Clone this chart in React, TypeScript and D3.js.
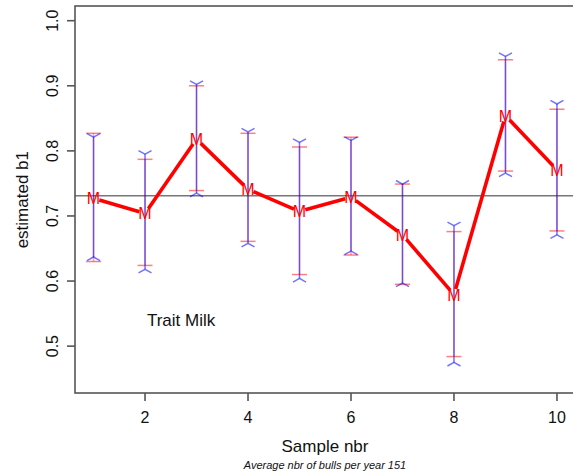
import React from 'react';
import * as d3 from 'd3';

// values
const samples = [1, 2, 3, 4, 5, 6, 7, 8, 9, 10];
const means = [0.727, 0.704, 0.818, 0.741, 0.707, 0.729, 0.671, 0.579, 0.854, 0.771];
const redLow = [0.630, 0.624, 0.739, 0.661, 0.610, 0.640, 0.595, 0.484, 0.769, 0.677];
const redHigh = [0.827, 0.787, 0.900, 0.827, 0.806, 0.821, 0.749, 0.676, 0.940, 0.864];
const blueLow = [0.637, 0.618, 0.735, 0.658, 0.604, 0.646, 0.597, 0.475, 0.766, 0.671];
const blueHigh = [0.821, 0.795, 0.902, 0.829, 0.813, 0.816, 0.749, 0.685, 0.945, 0.872];
const refLevel = 0.731;
const xTicks = [2, 4, 6, 8, 10];
const yTicks = [0.5, 0.6, 0.7, 0.8, 0.9, 1.0];

const W = 573;
const H = 475;
const font = '"Liberation Sans", Arial, sans-serif';

const App = () => {
  const x = d3.scaleLinear().domain([0.64, 10.36]).range([75, 575.5]);
  const y = d3.scaleLinear().domain([0.428, 1.0226]).range([393, 6]);

  const pts = samples.map((s, i) => [x(s), y(means[i])]);
  // type="b": leave a small gap around each point
  const gap = 6;
  const segs = pts.slice(1).map((p, i) => {
    const a = pts[i];
    const dx = p[0] - a[0];
    const dy = p[1] - a[1];
    const len = Math.sqrt(dx * dx + dy * dy);
    const ux = dx / len;
    const uy = dy / len;
    return [a[0] + ux * gap, a[1] + uy * gap, p[0] - ux * gap, p[1] - uy * gap];
  });

  const fork = (cx: number, cy: number, dir: number) =>
    `M${cx - 6.5},${cy + dir * 3.6}L${cx},${cy}L${cx + 6.5},${cy + dir * 3.6}`;

  return (
    <svg width={W} height={H} style={{ position: 'absolute', left: 0, top: 0 }} fontFamily={font}>
      <rect width={W} height={H} fill="#fff" />

      {/* reference line */}
      <line x1={75} x2={575.5} y1={y(refLevel)} y2={y(refLevel)} stroke="#777" strokeWidth={1.6} />

      {/* red intervals */}
      {samples.map((s, i) => (
        <g key={'r' + s} fill="none" strokeWidth={1.5}>
          <line x1={x(s)} x2={x(s)} y1={y(redLow[i])} y2={y(redHigh[i])} stroke="rgba(255,0,0,0.35)" />
          <line x1={x(s) - 7.5} x2={x(s) + 7.5} y1={y(redLow[i])} y2={y(redLow[i])} stroke="rgba(255,0,0,0.5)" />
          <line x1={x(s) - 7.5} x2={x(s) + 7.5} y1={y(redHigh[i])} y2={y(redHigh[i])} stroke="rgba(255,0,0,0.5)" />
        </g>
      ))}

      {/* blue intervals */}
      {samples.map((s, i) => (
        <g key={'b' + s} stroke="rgba(0,0,255,0.55)" strokeWidth={1.5} fill="none">
          <line x1={x(s)} x2={x(s)} y1={y(blueLow[i])} y2={y(blueHigh[i])} />
          <path d={fork(x(s), y(blueHigh[i]), -1)} />
          <path d={fork(x(s), y(blueLow[i]), 1)} />
        </g>
      ))}

      {/* mean line */}
      {segs.map((sg, i) => (
        <line key={'s' + i} x1={sg[0]} y1={sg[1]} x2={sg[2]} y2={sg[3]} stroke="#ff0000" strokeWidth={3.6} />
      ))}
      {pts.map((p, i) => (
        <text key={'m' + i} x={p[0]} y={p[1] + 5.8} fontSize={16} fill="#ff0000" textAnchor="middle">M</text>
      ))}

      <text x={x(2.7)} y={y(0.54) + 6} fontSize={17} textAnchor="middle" fill="#111">Trait Milk</text>

      {/* box and axes */}
      <rect x={75} y={6} width={500.5} height={387} fill="none" stroke="#555" strokeWidth={1.6} />
      {xTicks.map(t => (
        <g key={'x' + t}>
          <line x1={x(t)} x2={x(t)} y1={393} y2={401} stroke="#555" strokeWidth={1.6} />
          <text x={x(t)} y={422.5} fontSize={16} textAnchor="middle" fill="#111">{t}</text>
        </g>
      ))}
      {yTicks.map(t => (
        <g key={'y' + t}>
          <line x1={67} x2={75} y1={y(t)} y2={y(t)} stroke="#555" strokeWidth={1.6} />
          <text transform={`translate(58,${y(t)}) rotate(-90)`} fontSize={16} textAnchor="middle" fill="#111">
            {t.toFixed(1)}
          </text>
        </g>
      ))}

      <text x={325} y={452} fontSize={17} textAnchor="middle" fill="#111">Sample nbr</text>
      <text x={325} y={469} fontSize={11} fontStyle="italic" textAnchor="middle" fill="#111">
        Average nbr of bulls per year 151
      </text>
      <text transform={`translate(28,${y(0.725)}) rotate(-90)`} fontSize={17} textAnchor="middle" fill="#111">
        estimated b1
      </text>
    </svg>
  );
};

export default App;
